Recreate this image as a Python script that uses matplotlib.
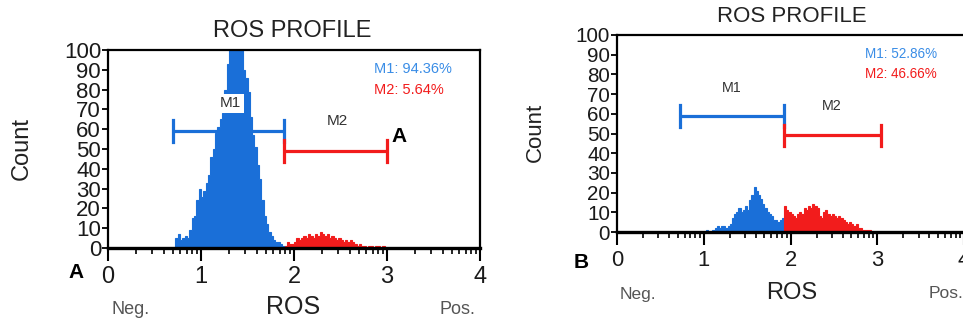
import numpy as np
import matplotlib
matplotlib.use("Agg")
import matplotlib.pyplot as plt

plt.rcParams['font.family'] = ['Liberation Sans', 'DejaVu Sans']

# histogram counts, bins of 0.025 log-units
bin_w = 0.025
a_m1_start = 0.725
a_m1 = [5, 7, 4, 5, 6, 5, 9, 15, 16, 24, 30, 26, 29, 33, 37, 46, 50, 58, 61, 65,
        68, 80, 93, 100, 100, 100, 100, 100, 100, 90, 86, 79, 66, 57, 51, 42, 35,
        24, 16, 12, 8, 6, 4, 3, 3, 2, 1]
a_m2_start = 1.900
a_m2 = [1, 3, 2, 2, 3, 5, 4, 5, 6, 5, 7, 6, 5, 7, 6, 8, 7, 6, 7, 5, 6, 5, 4, 5,
        4, 3, 4, 3, 4, 3, 2, 1, 2, 1, 1, 0, 1, 1, 0, 1, 1, 0, 1]

b_m1_start = 1.025
b_m1 = [1, 0, 0, 1, 2, 3, 2, 3, 3, 2, 3, 4, 7, 9, 10, 12, 10, 11, 13, 11, 16, 19,
        23, 21, 19, 17, 14, 12, 10, 9, 8, 6, 6, 5, 6, 7]
b_m2_start = 1.925
b_m2 = [13, 11, 10, 9, 8, 7, 9, 10, 9, 12, 11, 13, 12, 14, 13, 12, 8, 7, 10, 11,
        9, 8, 9, 8, 7, 8, 7, 6, 5, 4, 5, 4, 3, 4, 2, 2, 1, 1, 1, 1]

# markers: (start, end, level)
a_gates = [(0.70, 1.89, 59), (1.89, 3.00, 49)]
b_gates = [(0.73, 1.92, 59), (1.92, 3.04, 49)]
a_stats = ["M1: 94.36%", "M2: 5.64%"]
b_stats = ["M1: 52.86%", "M2: 46.66%"]

BLUE = '#1a6fd8'
BLUE_TXT = '#3a8de6'
RED = '#f21c1c'

W, H = 963, 326
fig = plt.figure(figsize=(W / 100, H / 100), dpi=100)


def px(x, y):
    return x / W, 1 - y / H


def panel(rect, m1s, m1, m2s, m2, gates, stats, s):
    ax = fig.add_axes(rect)
    e1 = m1s + bin_w * np.arange(len(m1) + 1)
    e2 = m2s + bin_w * np.arange(len(m2) + 1)
    ax.stairs(m1, e1, fill=True, facecolor=BLUE, edgecolor=BLUE, lw=0.8)
    ax.stairs(m2, e2, fill=True, facecolor=RED, edgecolor=RED, lw=0.8)

    (x0, x1, y1), (x2, x3, y2) = gates
    ax.plot([x0, x1], [y1, y1], color=BLUE, lw=2.3, solid_capstyle='butt')
    ax.plot([x0, x0], [y1 - 5.5, y1 + 5.5], color=BLUE, lw=2.3)
    ax.plot([x1, x1], [y1 - 5.5, y1 + 5.5], color=BLUE, lw=2.3)
    ax.plot([x2, x3], [y2, y2], color=RED, lw=2.3, solid_capstyle='butt')
    ax.plot([x2, x2], [y2 - 5.5, y2 + 5.5], color=RED, lw=2.3)
    ax.plot([x3, x3], [y2 - 5.5, y2 + 5.5], color=RED, lw=2.3)

    ax.text(1.32, 73, "M1", ha='center', va='center', fontsize=11 * s, color='#333333',
            bbox=dict(facecolor='white', edgecolor='none', pad=1.5))
    ax.text(2.47, 64, "M2", ha='center', va='center', fontsize=11 * s, color='#333333')
    ax.text(0.715, 0.905, stats[0], transform=ax.transAxes, fontsize=10.5 * s,
            color=BLUE_TXT, va='center')
    ax.text(0.715, 0.80, stats[1], transform=ax.transAxes, fontsize=10.5 * s,
            color=RED, va='center')

    ax.set_xlim(0, 4)
    ax.set_ylim(0, 100)
    ax.set_xticks(range(5))
    minor = [k + np.log10(m) for k in range(4) for m in range(2, 10)]
    ax.set_xticks(minor, minor=True)
    ax.set_yticks(range(0, 101, 10))
    ax.tick_params(axis='x', which='major', length=9, width=1.5, labelsize=17 * s, pad=4,
                   labelcolor='#1a1a1a')
    ax.tick_params(axis='x', which='minor', length=4.5, width=1.2)
    ax.tick_params(axis='y', length=4, width=1.3, labelsize=16 * s, pad=1,
                   labelcolor='#1a1a1a')
    for sp in ax.spines.values():
        sp.set_linewidth(1.6)
    ax.spines['bottom'].set_linewidth(2.4)
    return ax


panel([108 / W, 1 - 248 / H, 372 / W, 198 / H], a_m1_start, a_m1, a_m2_start, a_m2,
      a_gates, a_stats, 1.0)
panel([617 / W, 1 - 232 / H, 347 / W, 197 / H], b_m1_start, b_m1, b_m2_start, b_m2,
      b_gates, b_stats, 0.93)

# left panel labels
fig.text(*px(292, 31), "ROS PROFILE", ha='center', va='center', fontsize=17, color='#222222')
fig.text(*px(22, 148), "Count", ha='center', va='center', rotation=90, fontsize=17, color='#222222')
fig.text(*px(293, 307), "ROS", ha='center', va='center', fontsize=18, color='#222222')
fig.text(*px(131, 310), "Neg.", ha='center', va='center', fontsize=13, color='#555555')
fig.text(*px(457, 310), "Pos.", ha='center', va='center', fontsize=13, color='#555555')
fig.text(*px(76, 273), "A", ha='center', va='center', fontsize=15, fontweight='bold')
fig.text(*px(399, 136), "A", ha='center', va='center', fontsize=15, fontweight='bold')

# right panel labels
fig.text(*px(792, 16), "ROS PROFILE", ha='center', va='center', fontsize=16, color='#222222')
fig.text(*px(535, 132), "Count", ha='center', va='center', rotation=90, fontsize=16, color='#222222')
fig.text(*px(792, 293), "ROS", ha='center', va='center', fontsize=17, color='#222222')
fig.text(*px(638, 294), "Neg.", ha='center', va='center', fontsize=12.5, color='#555555')
fig.text(*px(946, 294), "Pos.", ha='center', va='center', fontsize=12.5, color='#555555')
fig.text(*px(581, 263), "B", ha='center', va='center', fontsize=15, fontweight='bold')

fig.savefig("out.png", dpi=100)
